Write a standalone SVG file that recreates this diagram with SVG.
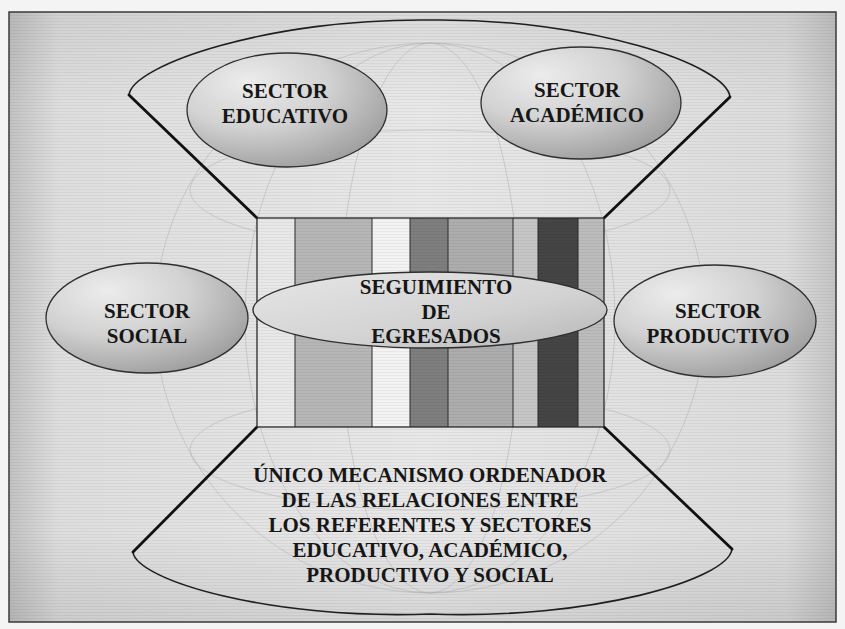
<svg xmlns="http://www.w3.org/2000/svg" width="845" height="629" viewBox="0 0 845 629">
<defs>
<style>
.lbl{font-family:"Liberation Serif","Times New Roman",serif;font-weight:bold;font-size:21px;fill:#161616;text-anchor:middle}
.sec{stroke:#2e2e2e;stroke-width:1.3}
.arc{fill:none;stroke:#1e1e1e;stroke-width:1.6}
.edge{fill:none;stroke:#111;stroke-width:2.8;stroke-linecap:round}
.globe{fill:none;stroke:#a6a6a6;stroke-width:1;opacity:0.45}
.div{stroke:#2a2a2a;stroke-width:1}
</style>
<radialGradient id="gSec" cx="0.35" cy="0.3" r="0.85" fx="0.3" fy="0.25">
<stop offset="0" stop-color="#ececec"/>
<stop offset="0.45" stop-color="#d2d2d2"/>
<stop offset="1" stop-color="#929292"/>
</radialGradient>
<linearGradient id="gSeg" x1="0" y1="0" x2="1" y2="1">
<stop offset="0" stop-color="#e6e6e6"/>
<stop offset="0.6" stop-color="#d2d2d2"/>
<stop offset="1" stop-color="#b6b6b6"/>
</linearGradient>
<linearGradient id="gBg" x1="0" y1="0" x2="1" y2="0">
<stop offset="0" stop-color="#c2c2c2"/>
<stop offset="0.06" stop-color="#dedede"/>
<stop offset="0.5" stop-color="#e8e8e8"/>
<stop offset="0.94" stop-color="#dcdcdc"/>
<stop offset="1" stop-color="#c4c4c4"/>
</linearGradient>
<linearGradient id="gBgV" x1="0" y1="0" x2="0" y2="1">
<stop offset="0" stop-color="#000" stop-opacity="0.06"/>
<stop offset="0.15" stop-color="#000" stop-opacity="0"/>
<stop offset="0.85" stop-color="#000" stop-opacity="0"/>
<stop offset="1" stop-color="#000" stop-opacity="0.08"/>
</linearGradient>
<pattern id="scan" width="4" height="3" patternUnits="userSpaceOnUse">
<rect width="4" height="1" fill="#000" opacity="0.05"/>
</pattern>
</defs>

<rect x="0" y="0" width="845" height="629" fill="#f4f4f4"/>
<g id="frame">
<rect x="9" y="12" width="827" height="610" fill="url(#gBg)"/>
<rect x="9" y="12" width="827" height="610" fill="url(#gBgV)"/>
<rect x="9" y="12" width="827" height="610" fill="url(#scan)"/>
<rect x="9" y="12" width="827" height="610" fill="none" stroke="#3a3a3a" stroke-width="1.5"/>
</g>

<g id="globe">
<circle class="globe" cx="430" cy="318" r="275"/>
<ellipse class="globe" cx="430" cy="318" rx="185" ry="275"/>
<ellipse class="globe" cx="430" cy="318" rx="90" ry="275"/>
<ellipse class="globe" cx="430" cy="190" rx="240" ry="60"/>
<ellipse class="globe" cx="430" cy="450" rx="240" ry="60"/>
</g>

<g id="fan-top">
<path class="arc" d="M129,95 C132,65 270,18 430,20 C590,18 727,65 730,97"/>
</g>
<g id="fan-bottom">
<path class="arc" d="M133,552 C136,580 270,620 430,614 C590,620 728,580 732,549"/>
</g>

<g id="connectors">
<line class="edge" x1="129" y1="95" x2="257" y2="218"/>
<line class="edge" x1="730" y1="97" x2="604" y2="218"/>
<line class="edge" x1="257" y1="427" x2="133" y2="552"/>
<line class="edge" x1="604" y1="427" x2="732" y2="549"/>
</g>

<g id="bars">
<rect x="257" y="218" width="38" height="209" fill="#e8e8e8"/>
<rect x="295" y="218" width="77" height="209" fill="#b6b6b6"/>
<rect x="372" y="218" width="38" height="209" fill="#f3f3f3"/>
<rect x="410" y="218" width="38" height="209" fill="#7e7e7e"/>
<rect x="448" y="218" width="65" height="209" fill="#adadad"/>
<rect x="513" y="218" width="25" height="209" fill="#c6c6c6"/>
<rect x="538" y="218" width="40" height="209" fill="#454545"/>
<rect x="578" y="218" width="26" height="209" fill="#bcbcbc"/>
<rect x="257" y="218" width="347" height="209" fill="url(#scan)"/>
<line class="div" x1="295" y1="218" x2="295" y2="427"/>
<line class="div" x1="372" y1="218" x2="372" y2="427"/>
<line class="div" x1="410" y1="218" x2="410" y2="427"/>
<line class="div" x1="448" y1="218" x2="448" y2="427"/>
<line class="div" x1="513" y1="218" x2="513" y2="427"/>
<line class="div" x1="538" y1="218" x2="538" y2="427"/>
<line class="div" x1="578" y1="218" x2="578" y2="427"/>
<rect x="257" y="218" width="347" height="209" fill="none" stroke="#2a2a2a" stroke-width="1.3"/>
</g>

<g id="sector-educativo">
<ellipse class="sec" cx="287" cy="110" rx="100" ry="57" fill="url(#gSec)"/>
<text class="lbl" x="285" y="98">SECTOR</text>
<text class="lbl" x="285" y="123">EDUCATIVO</text>
</g>

<g id="sector-academico">
<ellipse class="sec" cx="581" cy="103" rx="100" ry="56" fill="url(#gSec)"/>
<text class="lbl" x="577" y="97">SECTOR</text>
<text class="lbl" x="577" y="122">ACADÉMICO</text>
</g>

<g id="sector-social">
<ellipse class="sec" cx="147" cy="318" rx="101" ry="55" fill="url(#gSec)"/>
<text class="lbl" x="147" y="318">SECTOR</text>
<text class="lbl" x="147" y="343">SOCIAL</text>
</g>

<g id="sector-productivo">
<ellipse class="sec" cx="715" cy="321" rx="101" ry="56" fill="url(#gSec)"/>
<text class="lbl" x="718" y="318">SECTOR</text>
<text class="lbl" x="718" y="343">PRODUCTIVO</text>
</g>

<g id="seguimiento">
<ellipse class="sec" cx="430" cy="310" rx="177" ry="38" fill="url(#gSeg)"/>
<text class="lbl" x="436" y="294">SEGUIMIENTO</text>
<text class="lbl" x="436" y="319">DE</text>
<text class="lbl" x="436" y="343">EGRESADOS</text>
</g>

<g id="mecanismo">
<text class="lbl" x="430" y="482">ÚNICO MECANISMO ORDENADOR</text>
<text class="lbl" x="430" y="507">DE LAS RELACIONES ENTRE</text>
<text class="lbl" x="430" y="532">LOS REFERENTES Y SECTORES</text>
<text class="lbl" x="430" y="557">EDUCATIVO, ACADÉMICO,</text>
<text class="lbl" x="430" y="582">PRODUCTIVO Y SOCIAL</text>
</g>
</svg>
